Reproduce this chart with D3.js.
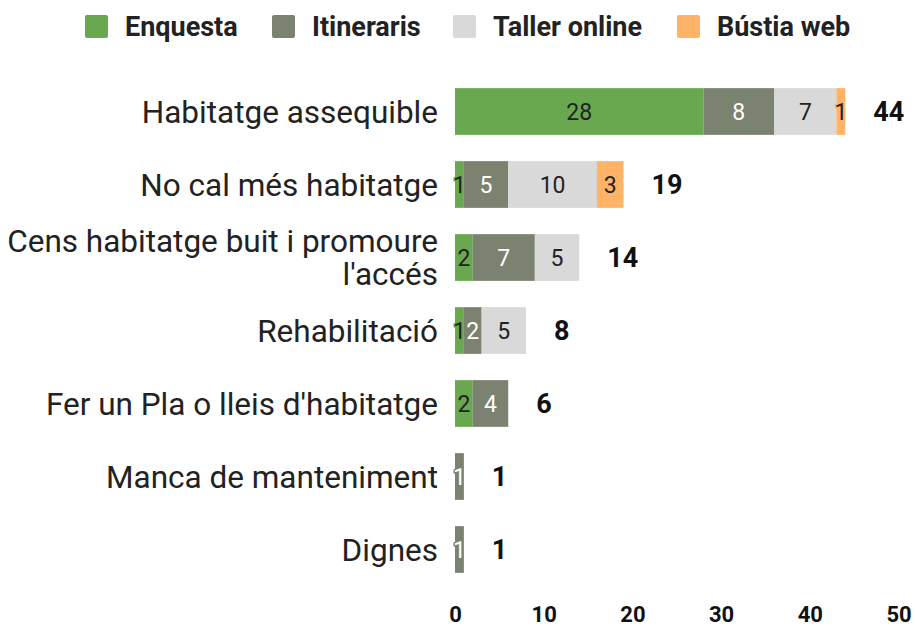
<script src="https://cdn.jsdelivr.net/npm/d3@7"></script>

<style>
body{margin:0;background:#fff}
svg{font-family:Roboto, sans-serif}
</style>

<body>
<script>

// Data
var categories = ["Habitatge assequible", "No cal més habitatge", "Cens habitatge buit i promoure|l'accés",
                  "Rehabilitació", "Fer un Pla o lleis d'habitatge", "Manca de manteniment", "Dignes"];
var seriesNames = ["Enquesta", "Itineraris", "Taller online", "Bústia web"];
var enquesta = [28, 1, 2, 1, 2, 0, 0];
var itineraris = [8, 5, 7, 2, 4, 1, 1];
var taller = [7, 10, 5, 5, 0, 0, 0];
var bustia = [1, 3, 0, 0, 0, 0, 0];
var xTicks = [0, 10, 20, 30, 40, 50];

var colors = ["#6aa84f", "#7b8270", "#d9d9d9", "#ffb366"];
var textColors = ["#222", "#fff", "#222", "#222"];

var W = 915, H = 628;
var svg = d3.select("body").append("svg").attr("width", W).attr("height", H);

var rows = categories.map(function (c, i) {
    return {cat: c, Enquesta: enquesta[i], Itineraris: itineraris[i], "Taller online": taller[i], "Bústia web": bustia[i]};
});

var stack = d3.stack().keys(seriesNames)(rows);

var x = d3.scaleLinear().domain([0, 50]).range([455, 898.5]);
var y = d3.scaleBand().domain(categories).range([75, 586]).paddingInner(0.36).paddingOuter(0.18);

// Legend
var legX = [85, 272, 453, 677];
var leg = svg.append("g").selectAll("g").data(seriesNames).enter().append("g")
    .attr("transform", function (d, i) { return "translate(" + legX[i] + ",15)"; });
leg.append("rect").attr("width", 23).attr("height", 23).attr("rx", 2)
    .attr("fill", function (d, i) { return colors[i]; });
leg.append("text").attr("x", 40).attr("y", 11.5).attr("dy", "0.35em")
    .style("font-size", "27px").style("font-weight", "bold").attr("fill", "#222")
    .text(function (d) { return d; });

// Bars
var layers = svg.append("g").selectAll("g").data(stack).enter().append("g")
    .attr("fill", function (d, i) { return colors[i]; });

layers.selectAll("rect").data(function (d) { return d; }).enter().append("rect")
    .filter(function (d) { return d[1] > d[0]; })
    .attr("x", function (d) { return x(d[0]); })
    .attr("y", function (d) { return y(d.data.cat); })
    .attr("width", function (d) { return x(d[1]) - x(d[0]); })
    .attr("height", y.bandwidth());

// Segment labels
stack.forEach(function (layer, k) {
    svg.append("g").selectAll("text").data(layer.filter(function (d) { return d[1] > d[0]; }))
        .enter().append("text")
        .attr("x", function (d) { return (x(d[0]) + x(d[1])) / 2; })
        .attr("y", function (d) { return y(d.data.cat) + y.bandwidth() / 2; })
        .attr("dy", "0.35em").attr("text-anchor", "middle")
        .style("font-size", "23px").attr("fill", textColors[k])
        .attr("stroke", colors[k]).attr("stroke-width", 3).attr("stroke-linejoin", "round")
        .style("paint-order", "stroke")
        .text(function (d) { return d[1] - d[0]; });
});

// Totals
svg.append("g").selectAll("text").data(rows).enter().append("text")
    .attr("x", function (d, i) { return x(stack[3][i][1]) + 28; })
    .attr("y", function (d) { return y(d.cat) + y.bandwidth() / 2; })
    .attr("dy", "0.35em")
    .style("font-size", "27px").style("font-weight", "bold").attr("fill", "#111")
    .text(function (d, i) { return stack[3][i][1]; });

// Category labels
var cl = svg.append("g").selectAll("text").data(categories).enter().append("text")
    .attr("x", 438)
    .attr("y", function (d) { return y(d) + y.bandwidth() / 2; })
    .attr("text-anchor", "end")
    .style("font-size", "31.5px").attr("fill", "#222");
cl.each(function (d) {
    var parts = d.split("|"), t = d3.select(this);
    parts.forEach(function (p, j) {
        t.append("tspan").attr("x", 438)
            .attr("dy", j === 0 ? (0.35 - (parts.length - 1) * 0.53) + "em" : "1.06em")
            .text(p);
    });
});

// X axis
var xAxis = svg.append("g").attr("transform", "translate(0,606)")
    .call(d3.axisBottom(x).tickValues(xTicks).tickSize(0).tickPadding(0));
xAxis.select(".domain").remove();
xAxis.selectAll("text").attr("dy", "0.71em").style("font-size", "22px").style("font-weight", "bold")
    .style("font-family", "Roboto, sans-serif").attr("fill", "#111");

</script>
</body>
